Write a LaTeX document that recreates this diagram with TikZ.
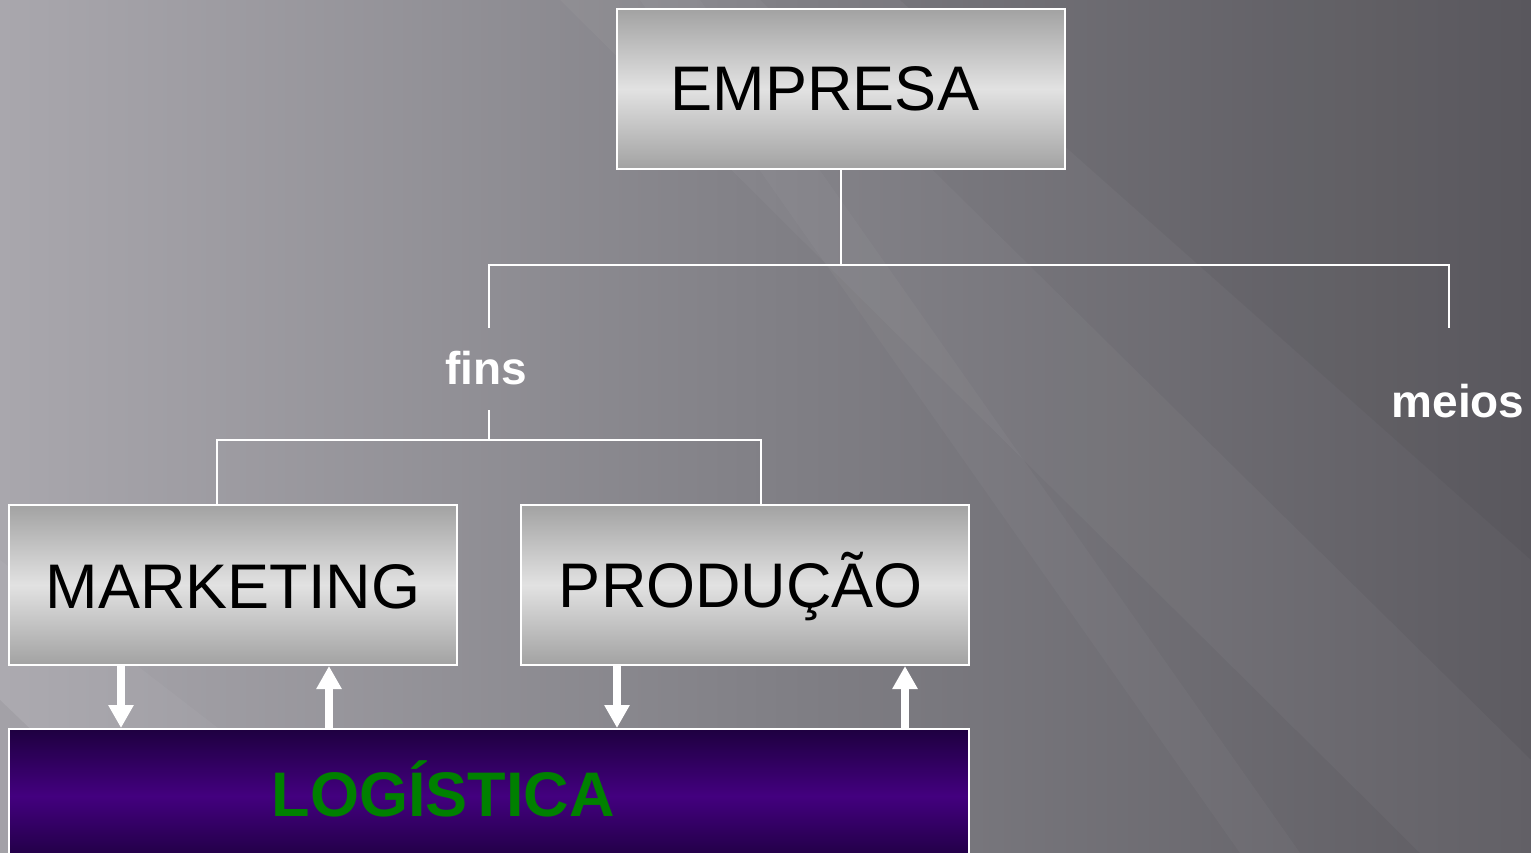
\documentclass[tikz,border=0pt]{standalone}
\usepackage{fontspec}
\setmainfont{Liberation Sans}
\usetikzlibrary{arrows.meta,calc}
\definecolor{bgA}{HTML}{A9A7AD}
\definecolor{bgM}{HTML}{818086}
\definecolor{bgD}{HTML}{5D5B61}
\definecolor{boxEdge}{HTML}{A2A2A2}
\definecolor{boxMid}{HTML}{E2E2E2}
\definecolor{logEdge}{HTML}{1E0040}
\definecolor{logMid}{HTML}{43007F}
\definecolor{logText}{HTML}{008000}
\tikzset{
  greybox/.style={draw=white, line width=2pt, minimum width=448pt, minimum height=160pt,
    top color=boxEdge, bottom color=boxEdge, middle color=boxMid, inner sep=0pt},
  boxtext/.style={font=\fontsize{63}{63}\selectfont, text=black, inner sep=0pt},
  wlink/.style={draw=white, line width=2pt},
  flowarrow/.style={draw=white, fill=white, line width=8pt, -{Triangle[width=24pt,length=23pt]}},
  branch/.style={font=\bfseries\fontsize{46}{46}\selectfont, text=white, inner sep=0pt, anchor=base}
}
\begin{document}
\begin{tikzpicture}[x=1pt,y=-1pt]
\useasboundingbox (0,0) rectangle (1531,853);
\clip (0,0) rectangle (1531,853);
% background
\shade[left color=bgA, right color=bgD, middle color=bgM] (0,0) rectangle (1531,853);
\fill[white, opacity=0.04] (0,120) -- (0,560) -- (380,853) -- (0,853) -- cycle;
\fill[black, opacity=0.05] (0,700) -- (0,853) -- (160,853) -- cycle;
\fill[white, opacity=0.035] (560,0) -- (760,0) -- (1531,760) -- (1531,853) -- (1420,853) -- cycle;
\fill[white, opacity=0.03] (640,0) -- (700,0) -- (1300,853) -- (1240,853) -- cycle;
\fill[black, opacity=0.04] (900,0) -- (1531,0) -- (1531,560) -- cycle;

% boxes
\node[greybox] (emp) at (841,89) {};
\node[boxtext] (empt) at (825,89) {EMPRESA};
\node[greybox] (mk) at (233,585) {};
\node[boxtext] (mkt) at (233,587) {MARKETING};
\node[greybox] (pr) at (745,585) {};
\node[boxtext] (prt) at (741,587) {PRODUÇÃO};
\node[draw=white, line width=2pt, minimum width=960pt, minimum height=134pt,
      top color=logEdge, bottom color=logEdge, middle color=logMid, inner sep=0pt] (lg) at (489,796) {};
\node[inner sep=0pt, text=logText, font=\bfseries\fontsize{63}{63}\selectfont] (lgt) at (443,789) {LOGÍSTICA};

% branch labels
\node[branch] (fins) at (486,384) {fins};
\node[branch] (meios) at (1458,417) {meios};

% connectors
\coordinate (j1) at (841,265);
\coordinate (fT) at (489,328);
\coordinate (mT) at (1449,328);
\coordinate (fB) at (489,410);
\coordinate (j2) at (489,440);
\coordinate (mkT) at (217,505);
\coordinate (prT) at (761,505);
\draw[wlink] (emp.south) -- (j1);
\draw[wlink] (fT) |- (j1) -| (mT);
\draw[wlink] (fB) -- (j2);
\draw[wlink] (mkT) |- (j2) -| (prT);

% arrows
\coordinate (a1) at (121,0);
\coordinate (a2) at (329,0);
\coordinate (a3) at (617,0);
\coordinate (a4) at (905,0);
\draw[flowarrow] (mk.south -| a1) -- (lg.north -| a1);
\draw[flowarrow] (lg.north -| a2) -- (mk.south -| a2);
\draw[flowarrow] (pr.south -| a3) -- (lg.north -| a3);
\draw[flowarrow] (lg.north -| a4) -- (pr.south -| a4);
\end{tikzpicture}
\end{document}
